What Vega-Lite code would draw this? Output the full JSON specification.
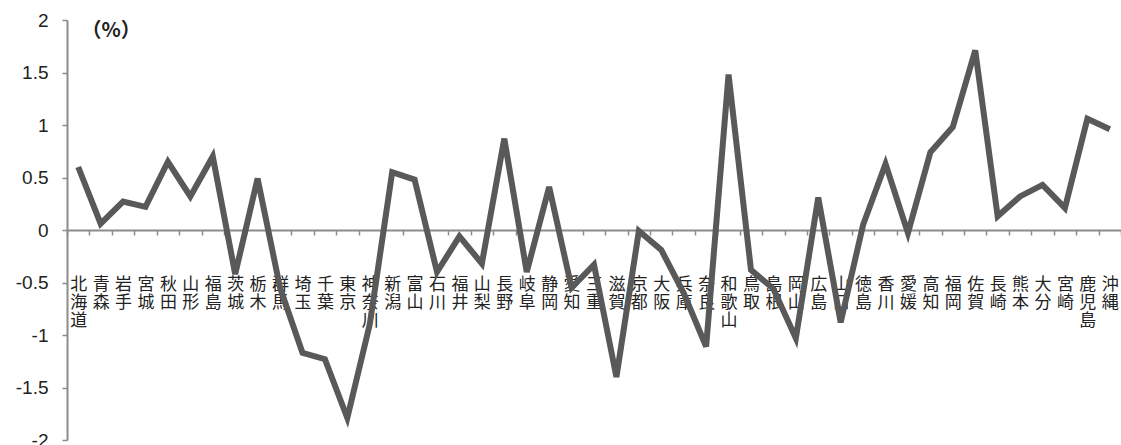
{
  "$schema": "https://vega.github.io/schema/vega-lite/v6.json",
  "width": 1054,
  "height": 420,
  "autosize": "none",
  "padding": {"left": 67, "top": 20, "right": 0, "bottom": 5},
  "background": "white",
  "config": {"view": {"stroke": null}},
  "data": {
    "values": [
      {"pref": "北海道", "rate": 0.60},
      {"pref": "青森", "rate": 0.06},
      {"pref": "岩手", "rate": 0.27},
      {"pref": "宮城", "rate": 0.22},
      {"pref": "秋田", "rate": 0.65},
      {"pref": "山形", "rate": 0.32},
      {"pref": "福島", "rate": 0.70},
      {"pref": "茨城", "rate": -0.42},
      {"pref": "栃木", "rate": 0.49},
      {"pref": "群馬", "rate": -0.55},
      {"pref": "埼玉", "rate": -1.17},
      {"pref": "千葉", "rate": -1.23},
      {"pref": "東京", "rate": -1.79},
      {"pref": "神奈川", "rate": -0.90},
      {"pref": "新潟", "rate": 0.55},
      {"pref": "富山", "rate": 0.48},
      {"pref": "石川", "rate": -0.40},
      {"pref": "福井", "rate": -0.06},
      {"pref": "山梨", "rate": -0.32},
      {"pref": "長野", "rate": 0.87},
      {"pref": "岐阜", "rate": -0.40},
      {"pref": "静岡", "rate": 0.41},
      {"pref": "愛知", "rate": -0.55},
      {"pref": "三重", "rate": -0.33},
      {"pref": "滋賀", "rate": -1.40},
      {"pref": "京都", "rate": -0.01},
      {"pref": "大阪", "rate": -0.19},
      {"pref": "兵庫", "rate": -0.60},
      {"pref": "奈良", "rate": -1.11},
      {"pref": "和歌山", "rate": 1.48},
      {"pref": "鳥取", "rate": -0.38},
      {"pref": "島根", "rate": -0.56},
      {"pref": "岡山", "rate": -1.03},
      {"pref": "広島", "rate": 0.31},
      {"pref": "山口", "rate": -0.88},
      {"pref": "徳島", "rate": 0.05},
      {"pref": "香川", "rate": 0.63},
      {"pref": "愛媛", "rate": -0.03},
      {"pref": "高知", "rate": 0.74},
      {"pref": "福岡", "rate": 0.98},
      {"pref": "佐賀", "rate": 1.71},
      {"pref": "長崎", "rate": 0.13},
      {"pref": "熊本", "rate": 0.32},
      {"pref": "大分", "rate": 0.43},
      {"pref": "宮崎", "rate": 0.21},
      {"pref": "鹿児島", "rate": 1.06},
      {"pref": "沖縄", "rate": 0.96}
    ]
  },
  "mark": {"type": "line", "color": "#595959", "strokeWidth": 6, "strokeJoin": "miter"},
  "encoding": {
    "x": {
      "field": "pref",
      "type": "nominal",
      "sort": null,
      "scale": {"type": "band", "paddingInner": 0, "paddingOuter": 0},
      "axis": {
        "title": null,
        "offset": -210,
        "domainColor": "#8c8c8c",
        "domainWidth": 2,
        "tickColor": "#8c8c8c",
        "tickWidth": 1.5,
        "tickSize": 5,
        "tickBand": "extent",
        "labelAngle": 0,
        "labelAlign": "center",
        "labelBaseline": "top",
        "labelFont": "Noto Sans CJK JP",
        "labelFontSize": 17,
        "labelColor": "#222222",
        "labelLineHeight": 18,
        "labelPadding": 41,
        "labelOverlap": false,
        "labelExpr": "split(datum.label, '')"
      }
    },
    "y": {
      "field": "rate",
      "type": "quantitative",
      "scale": {"domain": [-2, 2], "nice": false, "zero": false},
      "axis": {
        "values": [-2, -1.5, -1, -0.5, 0, 0.5, 1, 1.5, 2],
        "grid": false,
        "domainColor": "#8c8c8c",
        "domainWidth": 2,
        "tickColor": "#8c8c8c",
        "tickWidth": 1.5,
        "tickSize": 5,
        "labelFont": "Liberation Sans",
        "labelFontSize": 19,
        "labelColor": "#222222",
        "labelPadding": 14,
        "labelExpr": "'' + datum.value",
        "title": "（%）",
        "titleAngle": 0,
        "titleFont": "Noto Sans CJK JP",
        "titleFontSize": 20,
        "titleFontWeight": "bold",
        "titleColor": "#222222",
        "titleAlign": "left",
        "titleBaseline": "middle",
        "titleX": 14,
        "titleY": 10
      }
    }
  }
}
